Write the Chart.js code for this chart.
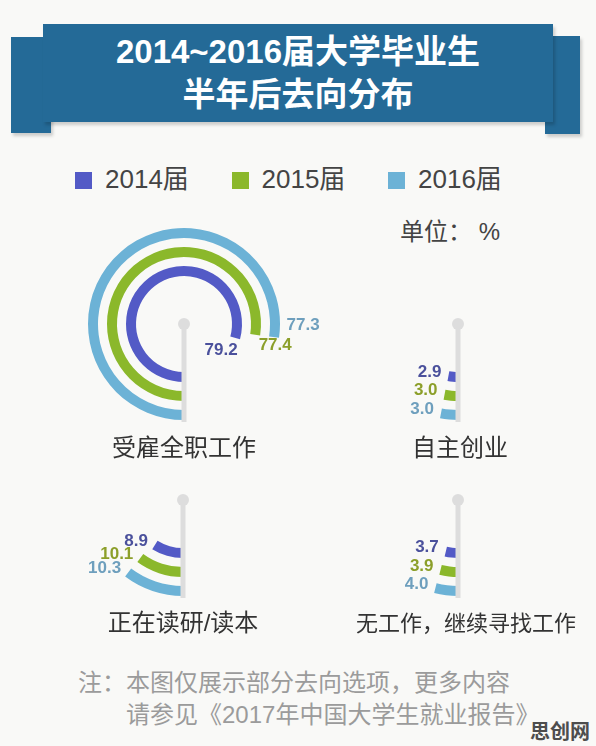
<!DOCTYPE html>
<html>
<head>
<meta charset="utf-8">
<script src="https://cdn.jsdelivr.net/npm/chart.js@4.4.1/dist/chart.umd.min.js"></script>
<style>
  body { margin: 0; background: #f9f9f7; font-family: "Liberation Sans", "Noto Sans CJK SC", sans-serif; }
  #page { position: relative; width: 596px; height: 746px; overflow: hidden; }
  .band { position: absolute; background: #246a97; box-shadow: 2px 3px 3px rgba(0,0,0,0.18); }
  #title { position: absolute; left: 0; width: 596px; top: 30px; text-align: center; color: #fff;
           font-weight: bold; font-size: 33px; line-height: 43px; }
  .leg { position: absolute; top: 164px; font-size: 26px; color: #444; line-height: 30px; white-space: nowrap; }
  .leg i { display: inline-block; width: 17px; height: 17px; margin-right: 13px; vertical-align: -1px; }
  #unit { position: absolute; left: 400px; top: 216px; font-size: 24px; color: #444; line-height: 32px; }
  .cat { position: absolute; width: 260px; text-align: center; font-size: 24px; color: #333; line-height: 30px; white-space: nowrap; }
  canvas { position: absolute; }
  .note { position: absolute; font-size: 24px; color: #9b9b9b; line-height: 30px; white-space: nowrap; }
  #mark { position: absolute; left: 530px; top: 716px; font-size: 20px; font-weight: bold; color: #4d4d4d; }
</style>
</head>
<body>
<div id="page">
  <div class="band" style="left:11px;top:37px;width:40px;height:96px"></div>
  <div class="band" style="left:545px;top:36px;width:35px;height:98px"></div>
  <div class="band" style="left:43px;top:24px;width:510px;height:98px"></div>
  <div id="title">2014~2016届大学毕业生<br>半年后去向分布</div>
  <div id="legend"></div>
  <div id="unit">单位： %</div>
  <div id="charts"></div>
  <div class="note" style="left:78px;top:668px">注：本图仅展示部分去向选项，更多内容</div>
  <div class="note" style="left:126px;top:700px">请参见《2017年中国大学生就业报告》</div>
  <div id="mark">思创网</div>
</div>
<script>
// 数据
const years = ["2014届", "2015届", "2016届"];
const categories = ["受雇全职工作", "自主创业", "正在读研/读本", "无工作，继续寻找工作"];
const values2014 = [79.2, 2.9, 8.9, 3.7];
const values2015 = [77.4, 3.0, 10.1, 3.9];
const values2016 = [77.3, 3.0, 10.3, 4.0];
const seriesValues = [values2014, values2015, values2016];

const arcColors = ["#535ac6", "#8bb82b", "#6cb2d6"];
const labelColors = ["#4b519c", "#8c9f2a", "#6e9fbd"];

// 每个小图的圆心位置
const centers = [[184, 324], [458, 324], [183, 500], [458, 500]];
const catTop = [433, 433, 608, 609];
const catShift = [0, 2, 0, 8];
const catSize = [24, 24, 24, 22];

// 数值标签相对弧线末端的偏移 [dx, dy, 对齐]
const bigOffsets = [[-14, 12, "center"], [20, 10, "center"], [29, -12, "center"]];
const smallOffsets = [[-7, -4, "right"], [-7, -4, "right"], [-7, -4, "right"]];

// 图例
const legend = document.getElementById("legend");
years.forEach((y, i) => {
  const d = document.createElement("div");
  d.className = "leg";
  d.style.left = (75 + i * 156.5) + "px";
  d.innerHTML = '<i style="background:' + arcColors[i] + '"></i>' + y;
  legend.appendChild(d);
});

// 竖杆和数值标签
const stickPlugin = {
  id: "stick",
  afterDatasetsDraw(chart, args, opts) {
    const ctx = chart.ctx;
    const first = chart.getDatasetMeta(0).data[0];
    const cx = first.x, cy = first.y, outer = first.outerRadius;
    ctx.save();
    ctx.strokeStyle = "#dddddd";
    ctx.lineWidth = 5;
    ctx.beginPath();
    ctx.moveTo(cx, cy);
    ctx.lineTo(cx, cy + outer + 2);
    ctx.stroke();
    ctx.fillStyle = "#dddddd";
    ctx.beginPath();
    ctx.arc(cx, cy, 6, 0, Math.PI * 2);
    ctx.fill();
    ctx.font = 'bold 17px "Liberation Sans", Arial, sans-serif';
    ctx.textBaseline = "middle";
    chart.data.datasets.forEach((ds, i) => {
      if (ds.series === undefined) return;
      const arc = chart.getDatasetMeta(i).data[0];
      const r = (arc.innerRadius + arc.outerRadius) / 2;
      const ex = cx + r * Math.cos(arc.endAngle);
      const ey = cy + r * Math.sin(arc.endAngle);
      const off = opts.offsets[ds.series];
      ctx.fillStyle = labelColors[ds.series];
      ctx.textAlign = off[2];
      ctx.fillText(ds.data[0].toFixed(1), ex + off[0], ey + off[1]);
    });
    ctx.restore();
  }
};

const holder = document.getElementById("charts");
categories.forEach((cat, k) => {
  const [cx, cy] = centers[k];
  const cv = document.createElement("canvas");
  cv.width = 280;
  cv.height = 220;
  cv.style.left = (cx - 140) + "px";
  cv.style.top = (cy - 110) + "px";
  holder.appendChild(cv);

  const lab = document.createElement("div");
  lab.className = "cat";
  lab.style.left = (cx - 130 + catShift[k]) + "px";
  lab.style.top = catTop[k] + "px";
  lab.style.fontSize = catSize[k] + "px";
  lab.textContent = cat;
  holder.appendChild(lab);

  // 外圈是2016届，中间留空隙
  const datasets = [];
  for (let s = 2; s >= 0; s--) {
    const v = seriesValues[s][k];
    datasets.push({
      series: s,
      data: [v, 100 - v],
      backgroundColor: [arcColors[s], "rgba(0,0,0,0)"],
      borderWidth: 0,
      weight: 10
    });
    if (s > 0) {
      datasets.push({ data: [100], backgroundColor: ["rgba(0,0,0,0)"], borderWidth: 0, weight: 9 });
    }
  }

  new Chart(cv, {
    type: "doughnut",
    data: { labels: ["value", "rest"], datasets: datasets },
    options: {
      responsive: false,
      animation: false,
      events: [],
      rotation: 180,
      cutout: "50%",
      hoverOffset: 0,
      layout: { padding: { left: 44, right: 44, top: 14, bottom: 14 } },
      plugins: {
        legend: { display: false },
        tooltip: { enabled: false },
        stick: { offsets: k === 0 ? bigOffsets : smallOffsets }
      }
    },
    plugins: [stickPlugin]
  });
});
</script>
</body>
</html>
